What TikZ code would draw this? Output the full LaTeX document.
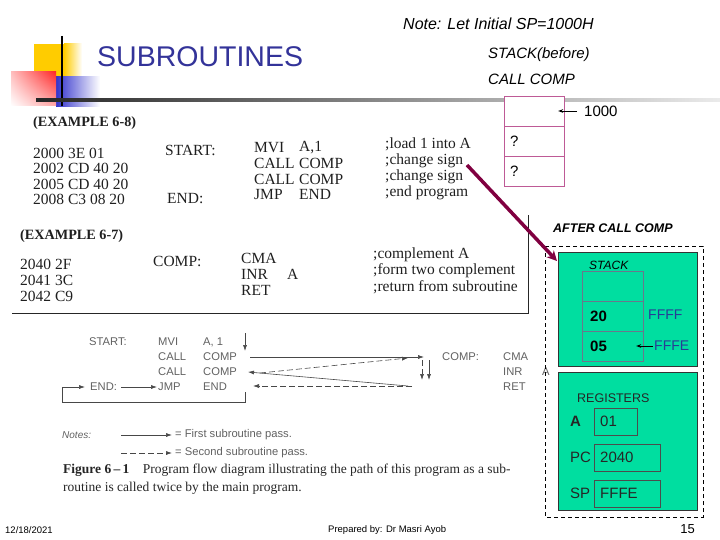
\documentclass[tikz,border=0pt]{standalone}
\usepackage{fontspec}
\setmainfont{Liberation Serif}
\setsansfont{Liberation Sans}
\usetikzlibrary{arrows.meta,positioning,shadings}
\definecolor{titleblue}{RGB}{51,51,153}
\definecolor{logoyellow}{RGB}{255,204,0}
\definecolor{logored}{RGB}{255,40,40}
\definecolor{logoblue}{RGB}{51,51,204}
\definecolor{regreen}{RGB}{0,222,160}
\definecolor{callmaroon}{RGB}{128,0,64}
\definecolor{cellpink}{RGB}{190,90,150}
\definecolor{cellgray}{RGB}{105,120,140}
\definecolor{addrblue}{RGB}{40,60,150}
\tikzset{
  scan/.style={
    anchor=west,
    inner sep=0pt,
    text=black!88,
    font=\fontsize{15.5}{17}\selectfont
  },
  scanbold/.style={
    scan,
    font=\bfseries\fontsize{14.2}{16}\selectfont
  },
  flow/.style={
    anchor=west,
    inner sep=0pt,
    text=black!62,
    font=\sffamily\fontsize{11.2}{12}\selectfont
  },
  slide/.style={
    anchor=west,
    inner sep=0pt,
    font=\sffamily\fontsize{15}{17}\selectfont
  },
  flowline/.style={
    draw=black!72,
    line width=0.6pt,
    -{Latex[length=6pt,width=4pt]}
  },
  flowdash/.style={
    flowline,
    dash pattern=on 6pt off 3pt
  },
  cellbefore/.style={
    draw=cellpink,
    fill=white,
    minimum width=60pt,
    minimum height=30pt,
    inner sep=0pt
  },
  cellafter/.style={
    draw=cellgray,
    minimum width=61pt,
    minimum height=30pt,
    inner sep=0pt
  },
  regbox/.style={
    draw=black!70,
    anchor=north west,
    minimum height=27pt,
    inner sep=0pt
  },
  greenbox/.style={
    draw=black!80,
    fill=regreen,
    anchor=north west,
    minimum width=139pt,
    inner sep=0pt
  },
}
\begin{document}
\begin{tikzpicture}[x=1pt,y=-1pt]
  \useasboundingbox (0,0) rectangle (720,540);
  \fill[logoyellow] (34,44) rectangle (64,78);
  \shade[left color=logoyellow,right color=white] (64,44) rectangle (82,78);
  \shade[left color=logoblue,right color=white] (56,77) rectangle (100,107);
  \shade[upper left=logored!30,upper right=logored,lower left=white,lower right=logored!40] (11,72) rectangle (56,106);
  \draw[line width=2.5pt] (62,36) -- (62,106);
  \shade[left color=black!85,middle color=black!50,right color=black!8] (36,99) rectangle (720,101.5);
  \node[anchor=west,inner sep=0pt,text=titleblue,font=\sffamily\fontsize{28.5}{30}\selectfont] (title) at (97,57) {SUBROUTINES};
  \node[slide,font=\sffamily\itshape\fontsize{16}{18}\selectfont] (note) at (403,24) {Note: Let Initial SP=1000H};
  \node[slide,font=\sffamily\itshape\fontsize{15}{17}\selectfont] (before) at (488,55) {STACK(before)};
  \node[slide,font=\sffamily\itshape\fontsize{15}{17}\selectfont] (beforecall) at (488,79) {CALL COMP};
  \foreach \i in {1,2,3}
    \node[cellbefore] (b\i) at (534,81+30*\i) {};
  \foreach \i in {2,3}
    \node[slide] (q\i) at (510,81+30*\i) {?};
  \node[slide] (sp1000) at (584,111) {1000};
  \draw[thick,-{Stealth[length=5pt]}] ([xshift=-7pt]sp1000.west) -- ([xshift=-6pt]b1.east);

  \node[scanbold] (ex68) at (33,123) {(EXAMPLE 6-8)};
  \foreach \addr [count=\i] in {2000 3E 01,2002 CD 40 20,2005 CD 40 20,2008 C3 08 20}
    \node[scan] (addr\i) at (33,137.5+15.5*\i) {\addr};
  \node[scan] (start) at (165,150) {START:};
  \node[scan] (end) at (167,199) {END:};
  \foreach \op/\arg [count=\i] in {MVI/{A,1},CALL/COMP,CALL/COMP,JMP/END}{
    \node[scan] (op\i) at (254,132.5+15.5*\i) {\op};
    \node[scan] (arg\i) at (299,132.5+15.5*\i) {\arg};
  }
  \foreach \com [count=\i] in {;load 1 into A,;change sign,;change sign,;end program}
    \node[scan] (com\i) at (385,128.5+16*\i) {\com};
  \node[scanbold] (ex67) at (20,236) {(EXAMPLE 6-7)};
  \foreach \addr [count=\i] in {2040 2F,2041 3C,2042 C9}
    \node[scan] (sub\i) at (20,248+16*\i) {\addr};
  \node[scan] (comp) at (153,261) {COMP:};
  \foreach \op [count=\i] in {CMA,INR,RET}
    \node[scan] (sop\i) at (241,242+16*\i) {\op};
  \node[scan] (sarg2) at (287,274) {A};
  \foreach \com [count=\i] in {;complement A,;form two complement,;return from subroutine}
    \node[scan] (scom\i) at (373,239+16*\i) {\com};
  \draw[black!85,semithick] (12,313) -- (528,313) -- (528,215);

  \node[flow] (fstart) at (89,342) {START:};
  \foreach \op/\arg [count=\i] in {MVI/{A, 1},CALL/COMP,CALL/COMP,JMP/END}{
    \node[flow] (fop\i) at (158,327+15*\i) {\op};
    \node[flow] (farg\i) at (203,327+15*\i) {\arg};
  }
  \node[flow] (fend) at (90,387) {END:};
  \node[flow] (fcomp) at (442,357) {COMP:};
  \foreach \op [count=\i] in {CMA,INR,RET}
    \node[flow] (fsop\i) at (503,342+15*\i) {\op};
  \node[flow] (fsarg) at (542,372) {A};
  \coordinate (d1) at (245,333);
  \coordinate (d2) at (245,351);
  \coordinate (c1) at (250,357);
  \coordinate (c2) at (424,357);
  \coordinate (c3) at (260,373);
  \coordinate (c4) at (408,358);
  \coordinate (r1) at (408,386);
  \coordinate (r2) at (248,372);
  \coordinate (r3) at (412,386);
  \coordinate (r4) at (253,386);
  \coordinate (l1) at (245,392);
  \coordinate (l2) at (62,402);
  \draw[flowline] (d1) -- (d2);
  \draw[flowline] (c1) -- (c2);
  \draw[flowdash] (c3) -- (c4);
  \draw[flowline] (r1) -- (r2);
  \draw[flowdash] (r3) -- (r4);
  \draw[flowdash] (422,360) -- (422,380);
  \draw[flowline] (429,360) -- (429,380);
  \draw[flowline] (l1) |- (l2) |- ([xshift=-5pt]fend.west);
  \draw[flowline] ([xshift=4pt]fend.east) -- ([xshift=-1pt]fop4.west);
  \node[flow,font=\sffamily\itshape\fontsize{10}{12}\selectfont] (notes) at (62,435) {Notes:};
  \node[flow] (first) at (175,435) {= First subroutine pass.};
  \node[flow] (second) at (175,453) {= Second subroutine pass.};
  \coordinate (n1) at (121,435);
  \coordinate (n2) at (121,453);
  \draw[flowline] (n1) -- ([xshift=-3pt]first.west);
  \draw[flowdash] (n2) -- ([xshift=-3pt]second.west);
  \node[anchor=west,inner sep=0pt,font=\fontsize{13.5}{15}\selectfont,text=black!85] (cap1) at (63,470) {\textbf{Figure 6\,–\,1}\quad Program flow diagram illustrating the path of this program as a sub-};
  \node[anchor=west,inner sep=0pt,font=\fontsize{13.5}{15}\selectfont,text=black!85] (cap2) at (63,488) {routine is called twice by the main program.};

  \draw[line width=0.8pt,dash pattern=on 4pt off 3pt] (545,246) rectangle (703,517);
  \node[greenbox,minimum height=114pt] (gstack) at (558,252) {};
  \node[greenbox,minimum height=138pt] (greg) at (558,372) {};
  \node[slide,font=\sffamily\bfseries\itshape\fontsize{12.5}{14}\selectfont] (after) at (553,228) {AFTER CALL COMP};
  \coordinate (callfrom) at (467,165);
  \coordinate (callto) at (557,261);
  \draw[callmaroon,line width=3.5pt,-{Stealth[length=10pt,width=10pt]}] (callfrom) -- (callto);
  \foreach \i in {1,2,3}
    \node[cellafter] (a\i) at (612.5,256+30*\i) {};
  \node[slide,font=\sffamily\itshape\fontsize{12}{14}\selectfont] (stk) at (589,265) {STACK};
  \node[slide,font=\sffamily\bfseries\fontsize{15}{17}\selectfont] (v20) at (590,316) {20};
  \node[slide,font=\sffamily\bfseries\fontsize{15}{17}\selectfont] (v05) at (590,346) {05};
  \node[slide,text=addrblue,font=\sffamily\fontsize{14}{16}\selectfont] (ffff) at (648,315) {FFFF};
  \node[slide,text=addrblue,font=\sffamily\fontsize{14}{16}\selectfont] (fffe) at (654,346) {FFFE};
  \draw[thick,-{Stealth[length=5pt]}] ([xshift=-1pt]fffe.west) -- ([xshift=-7pt]a3.east);
  \node[slide,text=black!85,font=\sffamily\fontsize{12.5}{14}\selectfont] (regs) at (577,398) {REGISTERS};
  \foreach \r/\v/\w [count=\i] in {{\bfseries A}/01/43pt,PC/2040/66pt,SP/FFFE/66pt}{
    \node[regbox,minimum width=\w] (reg\i) at (594,372+36*\i) {};
    \node[slide,text=black!85] (val\i) at ([xshift=6pt]reg\i.west) {\v};
    \node[slide,text=black!85] (lab\i) at (570,385.5+36*\i) {\r};
  }

  \node[slide,font=\sffamily\fontsize{9.5}{11}\selectfont] (date) at (5,530) {12/18/2021};
  \node[slide,font=\sffamily\fontsize{9.5}{11}\selectfont] (prep) at (328,530) {Prepared by: Dr Masri Ayob};
  \node[slide,anchor=east,font=\sffamily\fontsize{13}{15}\selectfont] (page) at (695,529) {15};
\end{tikzpicture}
\end{document}
